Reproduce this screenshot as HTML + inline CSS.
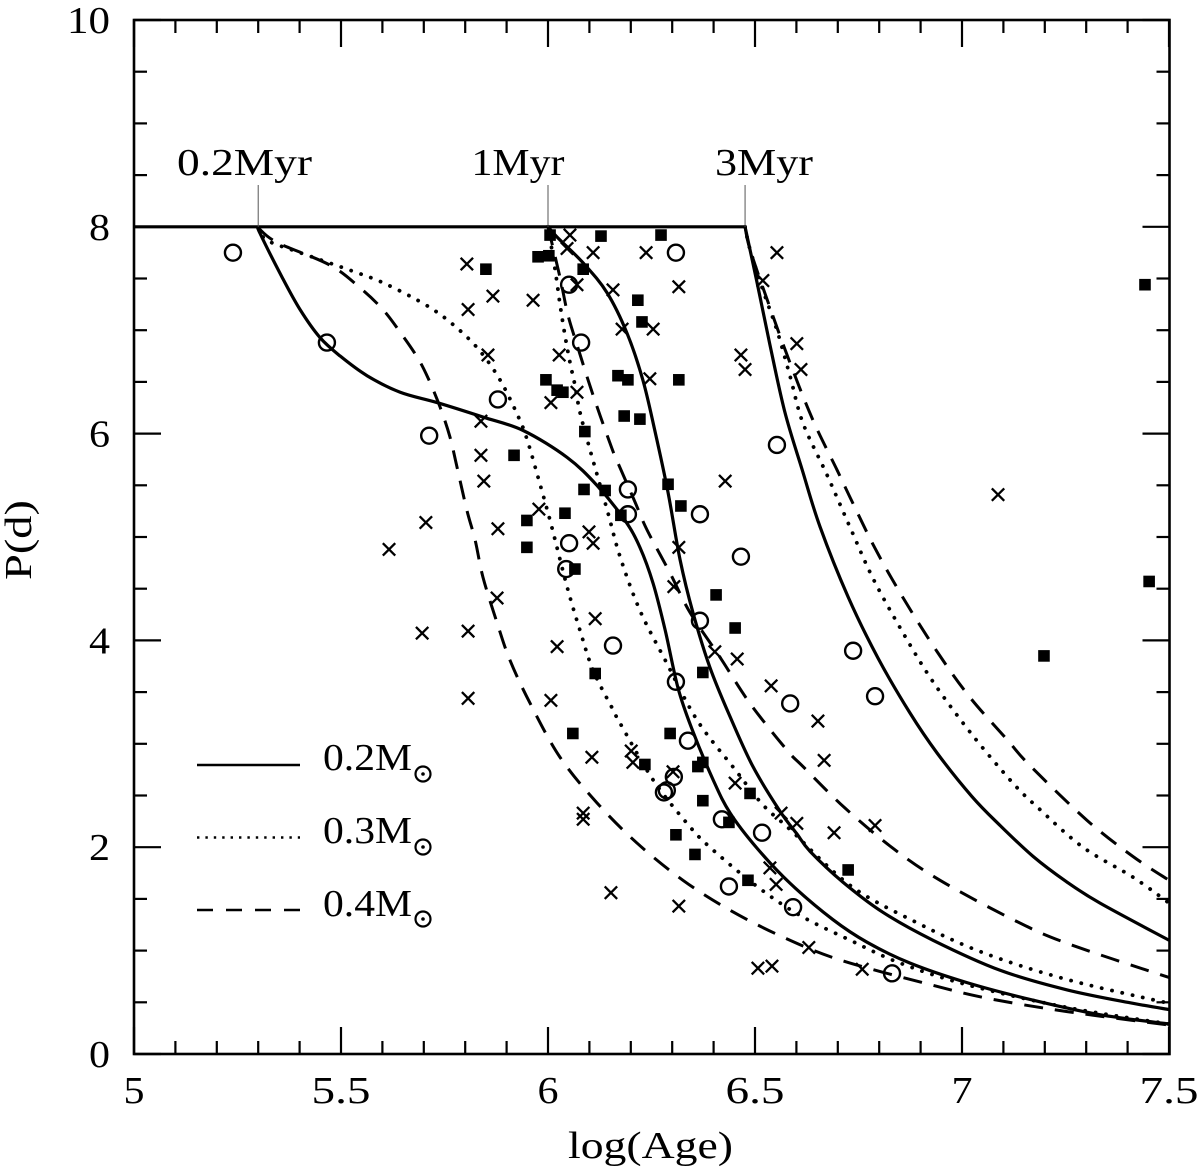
<!DOCTYPE html>
<html lang="en">
<head>
<meta charset="utf-8">
<title>P(d) versus log(Age)</title>
<style>
html,body{margin:0;padding:0;background:#fff;}
svg{display:block;}
text{font-family:"Liberation Serif",serif;font-size:38px;fill:#000;}
</style>
</head>
<body>
<svg id="chart" xmlns="http://www.w3.org/2000/svg" width="1200" height="1169" viewBox="0 0 1200 1169">
  <defs><clipPath id="plot-clip"><rect x="134" y="20" width="1035.5" height="1034"/></clipPath></defs>
  <rect x="0" y="0" width="1200" height="1169" fill="#fff"/>
  <g id="tracks" clip-path="url(#plot-clip)"></g>
  <g id="points"></g>
  <g id="age-marks"></g>
  <g id="axes"></g>
  <rect x="134" y="20" width="1035.5" height="1034" fill="none" stroke="#000" stroke-width="2.6"/>

  <text x="650.5" y="1158" text-anchor="middle" textLength="165" lengthAdjust="spacingAndGlyphs">log(Age)</text>
  <text transform="translate(31,540) rotate(-90)" text-anchor="middle" textLength="80" lengthAdjust="spacingAndGlyphs">P(d)</text>

  <g>
    <line x1="197" y1="765" x2="300" y2="765" stroke="#000" stroke-width="2.6"/>
    <text x="323" y="770" textLength="89" lengthAdjust="spacingAndGlyphs">0.2M</text>
    <circle cx="423" cy="774" r="7.5" fill="none" stroke="#000" stroke-width="2.2"/>
    <circle cx="423" cy="774" r="1.8" fill="#000"/>

    <line x1="197" y1="837.5" x2="300" y2="837.5" stroke="#000" stroke-width="2.4" stroke-dasharray="2.4 6"/>
    <text x="323" y="843" textLength="89" lengthAdjust="spacingAndGlyphs">0.3M</text>
    <circle cx="423" cy="847" r="7.5" fill="none" stroke="#000" stroke-width="2.2"/>
    <circle cx="423" cy="847" r="1.8" fill="#000"/>

    <line x1="197" y1="910" x2="300" y2="910" stroke="#000" stroke-width="2.6" stroke-dasharray="16 13"/>
    <text x="323" y="916" textLength="89" lengthAdjust="spacingAndGlyphs">0.4M</text>
    <circle cx="423" cy="919" r="7.5" fill="none" stroke="#000" stroke-width="2.2"/>
    <circle cx="423" cy="919" r="1.8" fill="#000"/>
  </g>
</svg>
<script>
// ---- axis tick data ----
var xMajorTicks = [5, 5.5, 6, 6.5, 7, 7.5];
var xTickLabels = ['5', '5.5', '6', '6.5', '7', '7.5'];
var xMinorTicks = [5.1,5.2,5.3,5.4,5.6,5.7,5.8,5.9,6.1,6.2,6.3,6.4,6.6,6.7,6.8,6.9,7.1,7.2,7.3,7.4];
var yMajorTicks = [0, 2, 4, 6, 8, 10];
var yTickLabels = ['0', '2', '4', '6', '8', '10'];
var yMinorTicks = [0.5,1,1.5,2.5,3,3.5,4.5,5,5.5,6.5,7,7.5,8.5,9,9.5];

// ---- age markers ----
var ageLabels = ['0.2Myr', '1Myr', '3Myr'];
var ageLogs = [5.30, 6.0, 6.476];
var plateauPeriod = 8;
var plateauStart = 5;

// ---- tracks: [log(Age), P] ----
var solid02Myr = [[5.30,8.0],[5.304,7.94],[5.358,7.51],[5.401,7.20],[5.449,6.93],[5.498,6.75],[5.563,6.56],[5.643,6.40],[5.732,6.30],[5.843,6.16],[5.94,6.03],[6.046,5.77],[6.118,5.50],[6.186,5.16],[6.222,4.90],[6.254,4.55],[6.283,4.10],[6.314,3.54],[6.348,3.14],[6.399,2.65],[6.44,2.33],[6.505,1.99],[6.585,1.65],[6.688,1.30],[6.771,1.08],[6.874,0.88],[7.012,0.69],[7.172,0.52],[7.333,0.38],[7.5,0.29]];
var solid1Myr = [[6.0,8.0],[6.022,7.90],[6.085,7.65],[6.143,7.36],[6.191,6.97],[6.229,6.52],[6.258,6.03],[6.29,5.43],[6.319,4.78],[6.35,4.27],[6.391,3.74],[6.44,3.26],[6.495,2.78],[6.56,2.35],[6.601,2.13],[6.633,1.96],[6.713,1.66],[6.809,1.37],[6.93,1.10],[7.092,0.81],[7.254,0.62],[7.413,0.49],[7.5,0.43]];
var solid3Myr = [[6.476,8.0],[6.505,7.46],[6.536,6.86],[6.572,6.21],[6.614,5.65],[6.657,5.10],[6.725,4.42],[6.797,3.83],[6.874,3.30],[6.94,2.91],[7.024,2.49],[7.092,2.21],[7.172,1.91],[7.251,1.67],[7.333,1.46],[7.5,1.10]];
var dotted02Myr = [[5.30,7.99],[5.321,7.87],[5.401,7.75],[5.522,7.58],[5.601,7.46],[5.698,7.26],[5.763,7.08],[5.829,6.83],[5.884,6.52],[5.932,6.13],[5.952,5.91],[5.973,5.62],[6.005,5.16],[6.046,4.52],[6.077,4.10],[6.109,3.71],[6.157,3.33],[6.174,3.20],[6.254,2.65],[6.336,2.23],[6.391,2.00],[6.505,1.62],[6.609,1.34],[6.73,1.10],[6.85,0.88],[7.012,0.67],[7.254,0.45],[7.5,0.29]];
var dotted1Myr = [[6.0,8.0],[6.017,7.59],[6.029,7.25],[6.041,6.95],[6.053,6.69],[6.065,6.47],[6.077,6.21],[6.101,5.85],[6.143,5.26],[6.174,4.81],[6.222,4.29],[6.283,3.81],[6.36,3.23],[6.452,2.75],[6.519,2.41],[6.585,2.17],[6.73,1.63],[6.891,1.27],[7.051,0.98],[7.254,0.72],[7.5,0.49]];
var dotted3Myr = [[6.476,8.0],[6.488,7.78],[6.519,7.39],[6.553,7.00],[6.585,6.55],[6.616,6.10],[6.674,5.60],[6.73,5.09],[6.785,4.60],[6.858,4.07],[6.93,3.60],[7.024,3.09],[7.123,2.62],[7.184,2.38],[7.292,2.00],[7.413,1.71],[7.5,1.46]];
var dashed02Myr = [[5.30,7.99],[5.345,7.85],[5.473,7.63],[5.546,7.41],[5.601,7.20],[5.643,6.98],[5.684,6.74],[5.71,6.54],[5.739,6.26],[5.763,5.97],[5.78,5.68],[5.804,5.26],[5.824,4.97],[5.843,4.61],[5.877,4.17],[5.908,3.81],[5.957,3.39],[6.029,2.87],[6.118,2.43],[6.215,2.04],[6.326,1.68],[6.44,1.39],[6.568,1.13],[6.705,0.91],[6.915,0.68],[7.06,0.54],[7.254,0.41],[7.5,0.28]];
var dashed1Myr = [[6.0,8.0],[6.029,7.51],[6.048,7.15],[6.07,6.86],[6.109,6.37],[6.155,5.85],[6.174,5.67],[6.21,5.34],[6.239,5.07],[6.295,4.65],[6.343,4.27],[6.415,3.84],[6.488,3.39],[6.577,2.94],[6.616,2.78],[6.717,2.38],[6.833,1.99],[6.947,1.68],[7.123,1.30],[7.254,1.07],[7.5,0.74]];
var dashed3Myr = [[6.476,8.0],[6.488,7.78],[6.536,7.22],[6.585,6.68],[6.64,6.13],[6.698,5.65],[6.73,5.38],[6.79,4.89],[6.858,4.41],[6.94,3.89],[7.019,3.45],[7.109,3.04],[7.164,2.79],[7.302,2.26],[7.413,1.91],[7.5,1.68]];

// ---- observed stars: [log(Age), P] ----
var squareStars = [[6.005,7.92],[6.128,7.91],[6.273,7.92],[5.976,7.71],[6.002,7.72],[5.85,7.59],[6.085,7.59],[6.217,7.29],[6.227,7.08],[5.995,6.52],[6.022,6.42],[6.036,6.40],[6.169,6.56],[6.193,6.52],[6.316,6.52],[6.089,6.02],[6.184,6.17],[6.222,6.14],[5.918,5.79],[6.087,5.46],[6.138,5.45],[6.29,5.51],[6.321,5.30],[6.041,5.23],[6.176,5.21],[5.949,5.16],[5.949,4.90],[6.065,4.69],[6.406,4.44],[6.452,4.12],[6.114,3.68],[6.374,3.69],[6.06,3.10],[6.295,3.10],[6.234,2.80],[6.362,2.78],[6.374,2.82],[6.488,2.52],[6.374,2.45],[6.437,2.24],[6.309,2.12],[6.355,1.93],[6.483,1.68],[6.725,1.78],[7.442,7.44],[7.452,4.57],[7.198,3.85]];
var crossStars = [[6.053,7.92],[6.046,7.79],[6.109,7.75],[6.237,7.75],[6.553,7.75],[5.804,7.64],[5.867,7.33],[5.807,7.20],[5.964,7.29],[6.07,7.44],[6.157,7.39],[6.316,7.42],[6.519,7.48],[6.179,7.01],[6.254,7.01],[6.601,6.87],[6.466,6.76],[6.476,6.62],[6.611,6.62],[5.855,6.76],[6.027,6.76],[6.246,6.53],[6.07,6.40],[6.007,6.30],[5.838,6.12],[5.838,5.79],[5.845,5.54],[6.428,5.54],[5.978,5.27],[5.879,5.08],[6.099,5.05],[6.109,4.94],[6.316,4.90],[5.705,5.14],[5.616,4.88],[6.304,4.52],[5.877,4.41],[6.114,4.21],[5.696,4.07],[5.807,4.09],[6.022,3.94],[6.403,3.89],[6.457,3.82],[6.539,3.56],[6.007,3.42],[5.807,3.44],[6.652,3.22],[6.106,2.87],[6.201,2.93],[6.205,2.82],[6.302,2.73],[6.667,2.84],[6.452,2.62],[6.563,2.33],[6.601,2.23],[6.79,2.21],[6.691,2.14],[6.536,1.80],[6.551,1.64],[6.085,2.33],[6.085,2.27],[6.152,1.56],[6.316,1.43],[6.63,1.03],[6.507,0.83],[6.541,0.85],[6.759,0.82],[7.087,5.41]];
var circleStars = [[5.239,7.75],[5.466,6.88],[5.713,5.98],[5.879,6.33],[6.309,7.75],[6.051,7.44],[6.08,6.88],[6.553,5.89],[6.193,5.46],[6.193,5.22],[6.367,5.22],[6.051,4.94],[6.466,4.81],[6.044,4.69],[6.367,4.19],[6.157,3.95],[6.309,3.60],[6.338,3.03],[6.304,2.68],[6.287,2.55],[6.28,2.53],[6.42,2.27],[6.517,2.14],[6.437,1.62],[6.592,1.42],[6.831,0.78],[6.737,3.90],[6.585,3.39],[6.79,3.46]];

// ---- scales ----
function xScale(v) { return 134 + (v - 5) * 414; }
function yScale(v) { return 1054 - v * 103.4; }

var NS = 'http://www.w3.org/2000/svg';
function make(tag, parent, attrs) {
  var el = document.createElementNS(NS, tag);
  for (var k in attrs) el.setAttribute(k, attrs[k]);
  parent.appendChild(el);
  return el;
}

function smoothPath(points) {
  var p = points.map(function (d) { return [xScale(d[0]), yScale(d[1])]; });
  var d = 'M' + p[0][0].toFixed(2) + ' ' + p[0][1].toFixed(2);
  for (var i = 0; i < p.length - 1; i++) {
    var p0 = p[Math.max(i - 1, 0)], p1 = p[i], p2 = p[i + 1], p3 = p[Math.min(i + 2, p.length - 1)];
    var c1x = p1[0] + (p2[0] - p0[0]) / 6, c1y = p1[1] + (p2[1] - p0[1]) / 6;
    var c2x = p2[0] - (p3[0] - p1[0]) / 6, c2y = p2[1] - (p3[1] - p1[1]) / 6;
    d += 'C' + c1x.toFixed(2) + ' ' + c1y.toFixed(2) + ' ' + c2x.toFixed(2) + ' ' + c2y.toFixed(2) + ' ' + p2[0].toFixed(2) + ' ' + p2[1].toFixed(2);
  }
  return d;
}

var axes = document.getElementById('axes');
var tracksG = document.getElementById('tracks');
var pointsG = document.getElementById('points');
var marksG = document.getElementById('age-marks');

// ---- ticks ----
function drawXTick(v, len, name) {
  var px = xScale(v);
  var bottom = make('line', axes, {x1: px, y1: 1054, x2: px, y2: 1054 - len, stroke: '#000', 'stroke-width': 2.2});
  
  
  var top = make('line', axes, {x1: px, y1: 20, x2: px, y2: 20 + len, stroke: '#000', 'stroke-width': 2.2});
  
  
}
function drawYTick(v, len, name) {
  var py = yScale(v);
  var left = make('line', axes, {x1: 134, y1: py, x2: 134 + len, y2: py, stroke: '#000', 'stroke-width': 2.2});
  
  
  var right = make('line', axes, {x1: 1169.5, y1: py, x2: 1169.5 - len, y2: py, stroke: '#000', 'stroke-width': 2.2});
  
  
}
xMinorTicks.forEach(function (v) { drawXTick(v, 13, 'x-minor-tick'); });
yMinorTicks.forEach(function (v) { drawYTick(v, 13, 'y-minor-tick'); });
xMajorTicks.forEach(function (v, i) {
  drawXTick(v, 27, 'x-major-tick');
  var label = xTickLabels[i];
  var t = make('text', axes, {x: xScale(v), y: 1103, 'text-anchor': 'middle'});
  
  
  t.textContent = label;
  t.setAttribute('textLength', label.length > 1 ? 59 : 21);
  t.setAttribute('lengthAdjust', 'spacingAndGlyphs');
});
yMajorTicks.forEach(function (v, i) {
  drawYTick(v, 27, 'y-major-tick');
  var label = yTickLabels[i];
  var t = make('text', axes, {x: 110, y: yScale(v) + 13, 'text-anchor': 'end'});
  
  
  t.textContent = label;
  t.setAttribute('textLength', label.length > 1 ? 43 : 21);
  t.setAttribute('lengthAdjust', 'spacingAndGlyphs');
});

// ---- plateau line ----
var plateauEnd = ageLogs[ageLogs.length - 1];
var plateau = make('line', tracksG, {x1: xScale(plateauStart), y1: yScale(plateauPeriod), x2: xScale(plateauEnd), y2: yScale(plateauPeriod), stroke: '#000', 'stroke-width': 3.2});



// ---- tracks ----
var solidTracks = [solid02Myr, solid1Myr, solid3Myr];
var dottedTracks = [dotted02Myr, dotted1Myr, dotted3Myr];
var dashedTracks = [dashed02Myr, dashed1Myr, dashed3Myr];
dottedTracks.forEach(function (tr) {
  var path = make('path', tracksG, {d: smoothPath(tr), fill: 'none', stroke: '#000', 'stroke-width': 3.8, 'stroke-linecap': 'round', 'stroke-dasharray': '0.1 10.4'});
  
  
});
dashedTracks.forEach(function (tr) {
  var path = make('path', tracksG, {d: smoothPath(tr), fill: 'none', stroke: '#000', 'stroke-width': 3, 'stroke-dasharray': '19 12'});
  
  
});
solidTracks.forEach(function (tr) {
  var path = make('path', tracksG, {d: smoothPath(tr), fill: 'none', stroke: '#000', 'stroke-width': 3.2});
  
  
});

// ---- age markers ----
var ageLabelWidths = [135, 93, 98];
var ageLabelCentres = [244.5, 518, 764];
ageLogs.forEach(function (v, i) {
  var px = xScale(v);
  var tick = make('line', marksG, {x1: px, y1: 185, x2: px, y2: yScale(plateauPeriod), stroke: '#555', 'stroke-width': 1});
  
  
  var t = make('text', marksG, {x: ageLabelCentres[i], y: 175, 'text-anchor': 'middle', textLength: ageLabelWidths[i], lengthAdjust: 'spacingAndGlyphs'});
  
  
  t.textContent = ageLabels[i];
});

// ---- stars ----
squareStars.forEach(function (d) {
  var s = make('rect', pointsG, {x: xScale(d[0]) - 5.8, y: yScale(d[1]) - 5.8, width: 11.6, height: 11.6, fill: '#000'});
  
  
});
crossStars.forEach(function (d) {
  var px = xScale(d[0]), py = yScale(d[1]);
  var c = make('path', pointsG, {d: 'M' + (px - 6.2) + ' ' + (py - 6.2) + 'L' + (px + 6.2) + ' ' + (py + 6.2) + 'M' + (px - 6.2) + ' ' + (py + 6.2) + 'L' + (px + 6.2) + ' ' + (py - 6.2), fill: 'none', stroke: '#000', 'stroke-width': 2.3});
  
  
});
circleStars.forEach(function (d) {
  var o = make('circle', pointsG, {cx: xScale(d[0]), cy: yScale(d[1]), r: 8, fill: 'none', stroke: '#000', 'stroke-width': 2.4});
  
  
});
</script>
</body>
</html>
